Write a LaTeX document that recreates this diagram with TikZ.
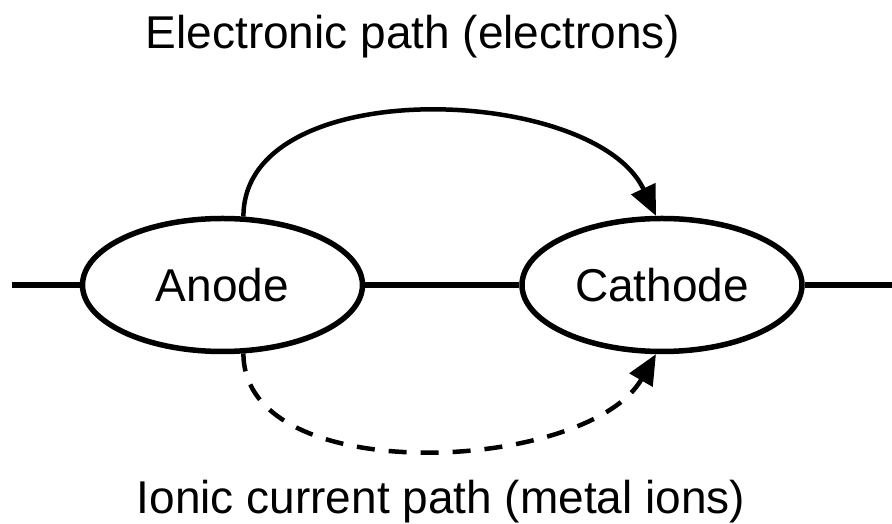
\documentclass[tikz,border=0pt]{standalone}
\usepackage{fontspec}
\setmainfont{Liberation Sans}
\usetikzlibrary{arrows.meta, shapes.geometric}

\begin{document}
\begin{tikzpicture}[x=1pt, y=1pt,
    electrode/.style={draw, ellipse, line width=5.5pt, minimum width=280pt,
                      minimum height=133pt, inner sep=0pt},
    path arrow/.style={line width=4.5pt, -{Triangle[length=30pt, width=26pt]}},
    ion dash/.style={dash pattern=on 18pt off 14pt}]
    \useasboundingbox (0, 0) rectangle (892, 524);

    \fontsize{46}{55}\selectfont

    \node[electrode] (anode)   at (222.5, 239) {Anode};    % Anode
    \node[electrode] (cathode) at (662,   239) {Cathode};  % Cathode

    \coordinate (wire left)  at (12,  239);
    \coordinate (wire right) at (892, 239);

    % Wire through both electrodes
    \draw[line width=6pt] (wire left) -- (anode.west);
    \draw[line width=6pt] (anode.east) -- (cathode.west);
    \draw[line width=6pt] (cathode.east) -- (wire right);

    % Electronic path (solid) and ionic path (dashed)
    \draw[path arrow] (anode.73) to[out=90, in=115, looseness=0.9] (cathode.95);
    \draw[path arrow, ion dash] (anode.-73) to[out=-90, in=-120, looseness=0.85] (cathode.-95);

    \node (electron label) at (413, 487) {Electronic path (electrons)};
    \node (ion label)      at (441, 22)  {Ionic current path (metal ions)};
\end{tikzpicture}
\end{document}
